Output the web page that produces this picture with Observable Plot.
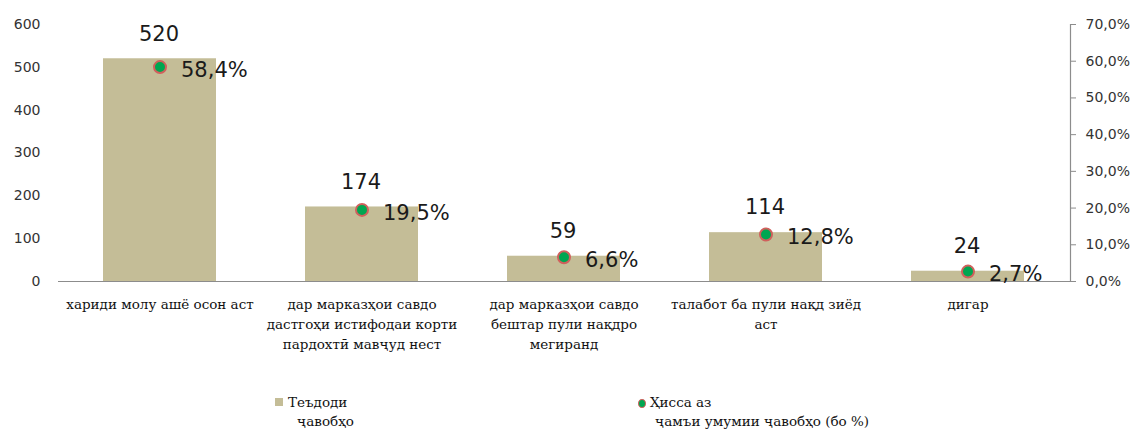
<!DOCTYPE html>
<html>
<head>
<meta charset="utf-8">
<script src="https://cdn.jsdelivr.net/npm/d3@7"></script>
<script src="https://cdn.jsdelivr.net/npm/@observablehq/plot@0.6"></script>
<style>
  html, body { margin: 0; padding: 0; background: #fff; }
  #wrap { position: relative; width: 1142px; height: 433px; }
  .leg { position: absolute; font-family: "DejaVu Serif", serif; font-size: 13.5px; color: #111; line-height: 19px; white-space: nowrap; }
  .sw { position: absolute; }
</style>
</head>
<body>
<div id="wrap"></div>
<script>
// ---- data ----
const categories = [
  "хариди молу ашё осон аст",
  "дар марказҳои савдо\nдастгоҳи истифодаи корти\nпардохтӣ мавҷуд нест",
  "дар марказҳои савдо\nбештар пули нақдро\nмегиранд",
  "талабот ба пули нақд зиёд\nаст",
  "дигар"
];
const counts = [520, 174, 59, 114, 24];
const shares = [58.4, 19.5, 6.6, 12.8, 2.7];
const leftTicks = [0, 100, 200, 300, 400, 500, 600];
const rightTicks = [0, 10, 20, 30, 40, 50, 60, 70];
const legendLabels = ["Теъдоди\nҷавобҳо", "Ҳисса аз\nҷамъи умумии ҷавобҳо (бо %)"];

const yMax = 600, pMax = 70;
const toY = p => p * yMax / pMax;
const fmtPct = v => (v * pMax / yMax).toFixed(1).replace(".", ",") + "%";

const rows = categories.map((c, i) => ({cat: c, count: counts[i], share: shares[i]}));

const barColor = "#c4bd97";
const axisColor = "#8c8c8c";

const chart = Plot.plot({
  width: 1142,
  height: 385,
  marginLeft: 58,
  marginRight: 72,
  marginTop: 24,
  marginBottom: 104,
  style: {fontFamily: "DejaVu Sans, sans-serif", background: "#fff"},
  x: {domain: categories, paddingInner: 0.44, paddingOuter: 0.22, axis: null},
  y: {domain: [0, yMax], axis: null},
  marks: [
    Plot.barY(rows, {x: "cat", y: "count", fill: barColor}),
    Plot.ruleY([0], {stroke: axisColor, strokeWidth: 1.2}),
    Plot.frame({anchor: "right", stroke: axisColor, strokeWidth: 1.2}),
    Plot.axisY({anchor: "left", ticks: leftTicks, tickSize: 0, tickPadding: 18,
      fontSize: 14, fill: "#333", tickFormat: d => String(d), label: null}),
    Plot.axisY({anchor: "right", ticks: rightTicks.map(toY), tickSize: 5, tickPadding: 10,
      stroke: axisColor, fontSize: 14, fill: "#333", tickFormat: fmtPct, label: null}),
    Plot.text(rows, {x: "cat", y: 0, text: "cat", lineAnchor: "top", dy: 13,
      fontFamily: "DejaVu Serif", fontSize: 13.5, lineHeight: 1.5, fill: "#111"}),
    Plot.text(rows, {x: "cat", y: "count", text: d => String(d.count), dy: -25, dx: -1,
      fontSize: 21, fill: "#1a1a1a"}),
    Plot.dot(rows, {x: "cat", y: d => toY(d.share), r: 6, fill: "#00a651",
      stroke: "#d0605c", strokeWidth: 2}),
    Plot.text(rows, {x: "cat", y: d => toY(d.share), text: d => d.share.toFixed(1).replace(".", ",") + "%",
      textAnchor: "start", dx: 21, dy: 3, fontSize: 21, fill: "#1a1a1a"})
  ]
});

const wrap = document.getElementById("wrap");
wrap.appendChild(chart);

// legend (below the SVG)
function addText(x, y, txt) {
  const d = document.createElement("div");
  d.className = "leg";
  d.style.left = x + "px";
  d.style.top = y + "px";
  d.textContent = txt;
  wrap.appendChild(d);
}
const [l1a, l1b] = legendLabels[0].split("\n");
const [l2a, l2b] = legendLabels[1].split("\n");
const sq = document.createElement("div");
sq.className = "sw";
Object.assign(sq.style, {left: "275px", top: "398px", width: "8px", height: "8px", background: barColor});
wrap.appendChild(sq);
addText(288, 393, l1a);
addText(297, 412, l1b);
const dt = document.createElement("div");
dt.className = "sw";
Object.assign(dt.style, {left: "638px", top: "399px", width: "6px", height: "7px", background: "#00a651",
  border: "1px solid #d0605c", borderRadius: "50%"});
wrap.appendChild(dt);
addText(650, 393, l2a);
addText(655, 412, l2b);
</script>
</body>
</html>
